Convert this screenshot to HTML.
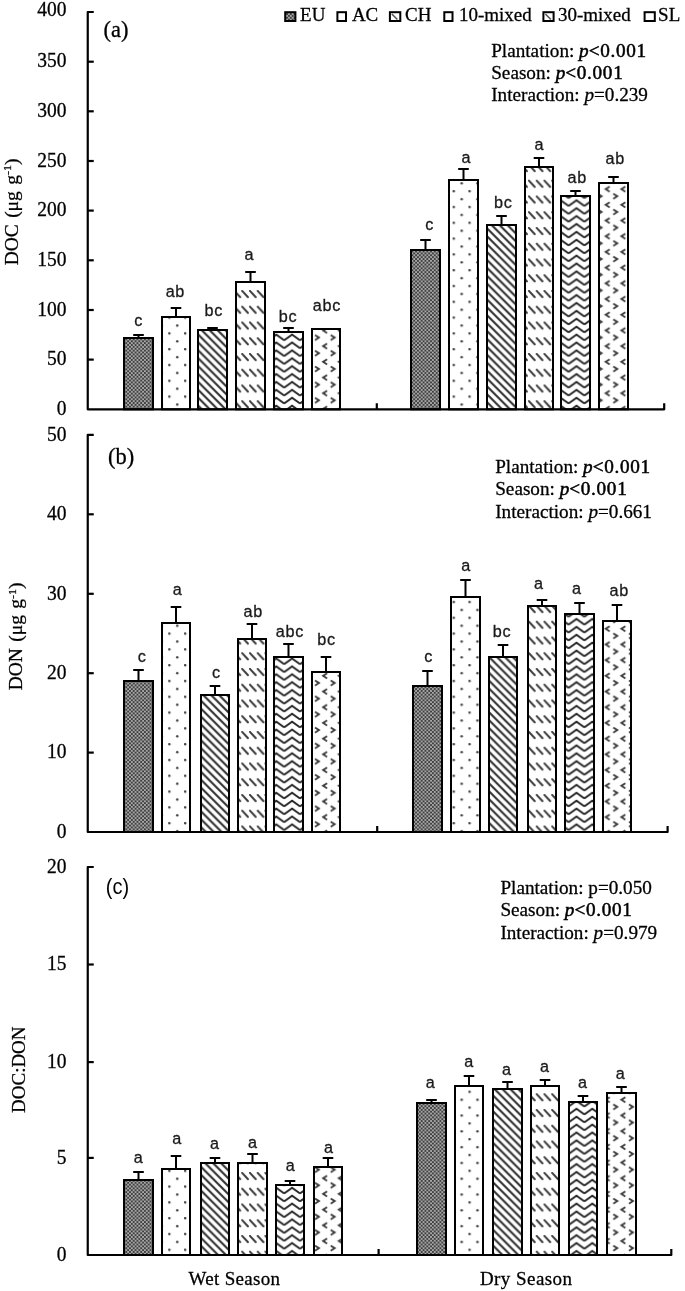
<!DOCTYPE html>
<html><head><meta charset="utf-8"><title>DOC DON chart</title>
<style>html,body{margin:0;padding:0;background:#fff;width:685px;height:1291px;overflow:hidden}
svg{display:block;filter:blur(0.45px)}
text[font-family*="Serif"]{stroke:#000;stroke-width:0.28px}</style></head><body>
<svg width="685" height="1291" viewBox="0 0 685 1291">

<defs>
 <pattern id="pEU" patternUnits="userSpaceOnUse" width="3.74" height="3.74">
  <rect width="3.74" height="3.74" fill="#a6a6a6"/>
  <rect width="1.87" height="1.87" fill="#404040"/><rect x="1.87" y="1.87" width="1.87" height="1.87" fill="#404040"/>
 </pattern>
 <pattern id="pAC" patternUnits="userSpaceOnUse" width="15.8" height="15.8" x="10.2" y="0.4">
  <rect width="15.8" height="15.8" fill="#fff"/>
  <circle cx="1.2" cy="1.2" r="1.25" fill="#444"/>
  <circle cx="9.1" cy="9.1" r="1.25" fill="#444"/>
 </pattern>
 <pattern id="pCH" patternUnits="userSpaceOnUse" width="7.9" height="7.9" x="0" y="2">
  <rect width="7.9" height="7.9" fill="#fff"/>
  <path d="M-2,-2 L9.9,9.9 M-2,5.9 L2,9.9 M5.9,-2 L9.9,2" stroke="#303030" stroke-width="2.1" fill="none"/>
 </pattern>
 <pattern id="p10" patternUnits="userSpaceOnUse" width="7.75" height="15.75" x="1" y="6.5">
  <rect width="7.75" height="15.75" fill="#fff"/>
  <path d="M0.9,0.9 L6.7,7.1" stroke="#3a3a3a" stroke-width="2" stroke-linecap="round" fill="none"/>
 </pattern>
 <pattern id="p30" patternUnits="userSpaceOnUse" width="15.8" height="7.9" x="-0.2" y="2.1">
  <rect width="15.8" height="7.9" fill="#fff"/>
  <path d="M0,6.3 L7.9,0.7 L15.8,6.3 M0,6.3 L-7.9,0.7 M15.8,6.3 L23.7,0.7 M0,-1.6 L7.9,-7.2 L15.8,-1.6 M0,14.2 L7.9,8.6 L15.8,14.2" stroke="#262626" stroke-width="1.9" fill="none"/>
 </pattern>
 <pattern id="pSL" patternUnits="userSpaceOnUse" width="15.7" height="15.7" x="7" y="-3">
  <rect width="15.7" height="15.7" fill="#fff"/>
  <path d="M6.1,1.3 L2.1,3.8 L6.1,6.3 M9.7,8.4 L13.7,10.9 L9.7,13.4" stroke="#3c3c3c" stroke-width="1.8" fill="none"/>
 </pattern>
 <pattern id="pW" patternUnits="userSpaceOnUse" width="4" height="4"><rect width="4" height="4" fill="#fff"/></pattern>
 <pattern id="pLCH" patternUnits="userSpaceOnUse" width="40" height="40"><rect width="40" height="40" fill="#fff"/><path d="M-10,-18 L50,42" stroke="#555" stroke-width="1.8"/></pattern>
</defs>

<rect width="685" height="1291" fill="#fff"/>
<path d="M138.5,338 V335 M133.2,335 H143.8" stroke="#000" stroke-width="2" fill="none"/>
<rect x="124" y="338" width="29" height="71.3" fill="url(#pEU)" stroke="#000" stroke-width="2"/>
<text transform="translate(138.55,325.7) scale(1,1.06)" font-family='"Liberation Sans", sans-serif' font-size="16.2" letter-spacing="0.7" text-anchor="middle" fill="#1a1a1a" stroke="#1a1a1a" stroke-width="0.3">c</text>
<path d="M176,317 V308 M170.7,308 H181.3" stroke="#000" stroke-width="2" fill="none"/>
<rect x="162" y="317" width="28" height="92.3" fill="url(#pAC)" stroke="#000" stroke-width="2"/>
<text transform="translate(175.35,296.8) scale(1,1.06)" font-family='"Liberation Sans", sans-serif' font-size="16.2" letter-spacing="0.7" text-anchor="middle" fill="#1a1a1a" stroke="#1a1a1a" stroke-width="0.3">ab</text>
<path d="M212.5,330 V328 M207.2,328 H217.8" stroke="#000" stroke-width="2" fill="none"/>
<rect x="198" y="330" width="29" height="79.3" fill="url(#pCH)" stroke="#000" stroke-width="2"/>
<text transform="translate(213.85,316) scale(1,1.06)" font-family='"Liberation Sans", sans-serif' font-size="16.2" letter-spacing="0.7" text-anchor="middle" fill="#1a1a1a" stroke="#1a1a1a" stroke-width="0.3">bc</text>
<path d="M250.5,282 V272 M245.2,272 H255.8" stroke="#000" stroke-width="2" fill="none"/>
<rect x="236" y="282" width="29" height="127.3" fill="url(#p10)" stroke="#000" stroke-width="2"/>
<text transform="translate(249.35,259.6) scale(1,1.06)" font-family='"Liberation Sans", sans-serif' font-size="16.2" letter-spacing="0.7" text-anchor="middle" fill="#1a1a1a" stroke="#1a1a1a" stroke-width="0.3">a</text>
<path d="M288.5,332 V328 M283.2,328 H293.8" stroke="#000" stroke-width="2" fill="none"/>
<rect x="274" y="332" width="29" height="77.3" fill="url(#p30)" stroke="#000" stroke-width="2"/>
<text transform="translate(287.95,321.8) scale(1,1.06)" font-family='"Liberation Sans", sans-serif' font-size="16.2" letter-spacing="0.7" text-anchor="middle" fill="#1a1a1a" stroke="#1a1a1a" stroke-width="0.3">bc</text>
<rect x="312" y="329" width="28" height="80.3" fill="url(#pSL)" stroke="#000" stroke-width="2"/>
<text transform="translate(326.95,311) scale(1,1.06)" font-family='"Liberation Sans", sans-serif' font-size="16.2" letter-spacing="0.7" text-anchor="middle" fill="#1a1a1a" stroke="#1a1a1a" stroke-width="0.3">abc</text>
<path d="M425.5,250 V240 M420.2,240 H430.8" stroke="#000" stroke-width="2" fill="none"/>
<rect x="411" y="250" width="29" height="159.3" fill="url(#pEU)" stroke="#000" stroke-width="2"/>
<text transform="translate(429.75,230.2) scale(1,1.06)" font-family='"Liberation Sans", sans-serif' font-size="16.2" letter-spacing="0.7" text-anchor="middle" fill="#1a1a1a" stroke="#1a1a1a" stroke-width="0.3">c</text>
<path d="M463.5,180 V169 M458.2,169 H468.8" stroke="#000" stroke-width="2" fill="none"/>
<rect x="449" y="180" width="29" height="229.3" fill="url(#pAC)" stroke="#000" stroke-width="2"/>
<text transform="translate(466.45,162.8) scale(1,1.06)" font-family='"Liberation Sans", sans-serif' font-size="16.2" letter-spacing="0.7" text-anchor="middle" fill="#1a1a1a" stroke="#1a1a1a" stroke-width="0.3">a</text>
<path d="M501.5,225 V216 M496.2,216 H506.8" stroke="#000" stroke-width="2" fill="none"/>
<rect x="487" y="225" width="29" height="184.3" fill="url(#pCH)" stroke="#000" stroke-width="2"/>
<text transform="translate(503.25,208) scale(1,1.06)" font-family='"Liberation Sans", sans-serif' font-size="16.2" letter-spacing="0.7" text-anchor="middle" fill="#1a1a1a" stroke="#1a1a1a" stroke-width="0.3">bc</text>
<path d="M539,167 V158 M533.7,158 H544.3" stroke="#000" stroke-width="2" fill="none"/>
<rect x="525" y="167" width="28" height="242.3" fill="url(#p10)" stroke="#000" stroke-width="2"/>
<text transform="translate(539.35,149.6) scale(1,1.06)" font-family='"Liberation Sans", sans-serif' font-size="16.2" letter-spacing="0.7" text-anchor="middle" fill="#1a1a1a" stroke="#1a1a1a" stroke-width="0.3">a</text>
<path d="M575.5,196 V191 M570.2,191 H580.8" stroke="#000" stroke-width="2" fill="none"/>
<rect x="561" y="196" width="29" height="213.3" fill="url(#p30)" stroke="#000" stroke-width="2"/>
<text transform="translate(577.15,182.9) scale(1,1.06)" font-family='"Liberation Sans", sans-serif' font-size="16.2" letter-spacing="0.7" text-anchor="middle" fill="#1a1a1a" stroke="#1a1a1a" stroke-width="0.3">ab</text>
<path d="M613.5,183 V177 M608.2,177 H618.8" stroke="#000" stroke-width="2" fill="none"/>
<rect x="599" y="183" width="29" height="226.3" fill="url(#pSL)" stroke="#000" stroke-width="2"/>
<text transform="translate(615.25,164.2) scale(1,1.06)" font-family='"Liberation Sans", sans-serif' font-size="16.2" letter-spacing="0.7" text-anchor="middle" fill="#1a1a1a" stroke="#1a1a1a" stroke-width="0.3">ab</text>
<path d="M93.75,12 H87.75 V409.3 H664.2 V403.3 M376.8,409.3 V403.3" stroke="#000" stroke-width="2.2" fill="none" stroke-linejoin="round"/>
<text transform="translate(66.5,16.1) scale(1,1.035)" font-family='"Liberation Serif", serif' font-size="19.5" text-anchor="end" fill="#000">400</text>
<path d="M87.75,61.7 H93.75" stroke="#000" stroke-width="2.2"/>
<text transform="translate(66.5,67.4) scale(1,1.035)" font-family='"Liberation Serif", serif' font-size="19.5" text-anchor="end" fill="#000">350</text>
<path d="M87.75,111.3 H93.75" stroke="#000" stroke-width="2.2"/>
<text transform="translate(66.5,117) scale(1,1.035)" font-family='"Liberation Serif", serif' font-size="19.5" text-anchor="end" fill="#000">300</text>
<path d="M87.75,161 H93.75" stroke="#000" stroke-width="2.2"/>
<text transform="translate(66.5,166.7) scale(1,1.035)" font-family='"Liberation Serif", serif' font-size="19.5" text-anchor="end" fill="#000">250</text>
<path d="M87.75,210.6 H93.75" stroke="#000" stroke-width="2.2"/>
<text transform="translate(66.5,216.3) scale(1,1.035)" font-family='"Liberation Serif", serif' font-size="19.5" text-anchor="end" fill="#000">200</text>
<path d="M87.75,260.3 H93.75" stroke="#000" stroke-width="2.2"/>
<text transform="translate(66.5,266) scale(1,1.035)" font-family='"Liberation Serif", serif' font-size="19.5" text-anchor="end" fill="#000">150</text>
<path d="M87.75,310 H93.75" stroke="#000" stroke-width="2.2"/>
<text transform="translate(66.5,315.7) scale(1,1.035)" font-family='"Liberation Serif", serif' font-size="19.5" text-anchor="end" fill="#000">100</text>
<path d="M87.75,359.6 H93.75" stroke="#000" stroke-width="2.2"/>
<text transform="translate(66.5,365.3) scale(1,1.035)" font-family='"Liberation Serif", serif' font-size="19.5" text-anchor="end" fill="#000">50</text>
<text transform="translate(66.5,415) scale(1,1.035)" font-family='"Liberation Serif", serif' font-size="19.5" text-anchor="end" fill="#000">0</text>
<text transform="translate(103.6,36.9) scale(1,1.035)" font-family='"Liberation Serif", serif' font-size="22.5" fill="#000">(a)</text>
<text transform="translate(491.2,57.2) scale(1,1.035)" font-family='"Liberation Serif", serif' font-size="19.2" fill="#000">Plantation: <tspan font-style="italic" fill="#000" style="stroke-width:0.5px">p</tspan><tspan fill="#000" style="stroke-width:0.5px" letter-spacing="0.7"><0.001</tspan></text>
<text transform="translate(491.2,79.4) scale(1,1.035)" font-family='"Liberation Serif", serif' font-size="19.2" fill="#000">Season: <tspan font-style="italic" fill="#000" style="stroke-width:0.5px">p</tspan><tspan fill="#000" style="stroke-width:0.5px" letter-spacing="0.7"><0.001</tspan></text>
<text transform="translate(491.2,101) scale(1,1.035)" font-family='"Liberation Serif", serif' font-size="19.2" fill="#000">Interaction: <tspan font-style="italic">p</tspan>=0.239</text>
<text transform="translate(17.8,212) rotate(-90) scale(1,0.94)" x="0" y="0" font-family='"Liberation Serif", serif' font-size="19.5" word-spacing="1.5" text-anchor="middle" fill="#000">DOC (μg g<tspan dy="-7" font-size="12">-1</tspan><tspan dy="7">)</tspan></text>
<path d="M138.5,681 V670 M133.2,670 H143.8" stroke="#000" stroke-width="2" fill="none"/>
<rect x="124" y="681" width="29" height="151" fill="url(#pEU)" stroke="#000" stroke-width="2"/>
<text transform="translate(142.05,662) scale(1,1.06)" font-family='"Liberation Sans", sans-serif' font-size="16.2" letter-spacing="0.7" text-anchor="middle" fill="#1a1a1a" stroke="#1a1a1a" stroke-width="0.3">c</text>
<path d="M176,623 V607 M170.7,607 H181.3" stroke="#000" stroke-width="2" fill="none"/>
<rect x="162" y="623" width="28" height="209" fill="url(#pAC)" stroke="#000" stroke-width="2"/>
<text transform="translate(177.55,594.5) scale(1,1.06)" font-family='"Liberation Sans", sans-serif' font-size="16.2" letter-spacing="0.7" text-anchor="middle" fill="#1a1a1a" stroke="#1a1a1a" stroke-width="0.3">a</text>
<path d="M215,695 V686 M209.7,686 H220.3" stroke="#000" stroke-width="2" fill="none"/>
<rect x="201" y="695" width="28" height="137" fill="url(#pCH)" stroke="#000" stroke-width="2"/>
<text transform="translate(216.35,677.6) scale(1,1.06)" font-family='"Liberation Sans", sans-serif' font-size="16.2" letter-spacing="0.7" text-anchor="middle" fill="#1a1a1a" stroke="#1a1a1a" stroke-width="0.3">c</text>
<path d="M252,639 V624 M246.7,624 H257.3" stroke="#000" stroke-width="2" fill="none"/>
<rect x="238" y="639" width="28" height="193" fill="url(#p10)" stroke="#000" stroke-width="2"/>
<text transform="translate(253.15,616.9) scale(1,1.06)" font-family='"Liberation Sans", sans-serif' font-size="16.2" letter-spacing="0.7" text-anchor="middle" fill="#1a1a1a" stroke="#1a1a1a" stroke-width="0.3">ab</text>
<path d="M288.5,657 V644 M283.2,644 H293.8" stroke="#000" stroke-width="2" fill="none"/>
<rect x="274" y="657" width="29" height="175" fill="url(#p30)" stroke="#000" stroke-width="2"/>
<text transform="translate(289.95,636.8) scale(1,1.06)" font-family='"Liberation Sans", sans-serif' font-size="16.2" letter-spacing="0.7" text-anchor="middle" fill="#1a1a1a" stroke="#1a1a1a" stroke-width="0.3">abc</text>
<path d="M326,672 V657 M320.7,657 H331.3" stroke="#000" stroke-width="2" fill="none"/>
<rect x="312" y="672" width="28" height="160" fill="url(#pSL)" stroke="#000" stroke-width="2"/>
<text transform="translate(326.45,644.9) scale(1,1.06)" font-family='"Liberation Sans", sans-serif' font-size="16.2" letter-spacing="0.7" text-anchor="middle" fill="#1a1a1a" stroke="#1a1a1a" stroke-width="0.3">bc</text>
<path d="M427.5,686 V671 M422.2,671 H432.8" stroke="#000" stroke-width="2" fill="none"/>
<rect x="413" y="686" width="29" height="146" fill="url(#pEU)" stroke="#000" stroke-width="2"/>
<text transform="translate(428.75,661.6) scale(1,1.06)" font-family='"Liberation Sans", sans-serif' font-size="16.2" letter-spacing="0.7" text-anchor="middle" fill="#1a1a1a" stroke="#1a1a1a" stroke-width="0.3">c</text>
<path d="M465.5,597 V580 M460.2,580 H470.8" stroke="#000" stroke-width="2" fill="none"/>
<rect x="451" y="597" width="29" height="235" fill="url(#pAC)" stroke="#000" stroke-width="2"/>
<text transform="translate(466.05,571.4) scale(1,1.06)" font-family='"Liberation Sans", sans-serif' font-size="16.2" letter-spacing="0.7" text-anchor="middle" fill="#1a1a1a" stroke="#1a1a1a" stroke-width="0.3">a</text>
<path d="M503,657 V645 M497.7,645 H508.3" stroke="#000" stroke-width="2" fill="none"/>
<rect x="489" y="657" width="28" height="175" fill="url(#pCH)" stroke="#000" stroke-width="2"/>
<text transform="translate(502.05,636.7) scale(1,1.06)" font-family='"Liberation Sans", sans-serif' font-size="16.2" letter-spacing="0.7" text-anchor="middle" fill="#1a1a1a" stroke="#1a1a1a" stroke-width="0.3">bc</text>
<path d="M542,606 V600 M536.7,600 H547.3" stroke="#000" stroke-width="2" fill="none"/>
<rect x="528" y="606" width="28" height="226" fill="url(#p10)" stroke="#000" stroke-width="2"/>
<text transform="translate(538.95,588.9) scale(1,1.06)" font-family='"Liberation Sans", sans-serif' font-size="16.2" letter-spacing="0.7" text-anchor="middle" fill="#1a1a1a" stroke="#1a1a1a" stroke-width="0.3">a</text>
<path d="M579.5,614 V603 M574.2,603 H584.8" stroke="#000" stroke-width="2" fill="none"/>
<rect x="565" y="614" width="29" height="218" fill="url(#p30)" stroke="#000" stroke-width="2"/>
<text transform="translate(576.75,594.1) scale(1,1.06)" font-family='"Liberation Sans", sans-serif' font-size="16.2" letter-spacing="0.7" text-anchor="middle" fill="#1a1a1a" stroke="#1a1a1a" stroke-width="0.3">a</text>
<path d="M617,621 V605 M611.7,605 H622.3" stroke="#000" stroke-width="2" fill="none"/>
<rect x="603" y="621" width="28" height="211" fill="url(#pSL)" stroke="#000" stroke-width="2"/>
<text transform="translate(619.25,596.4) scale(1,1.06)" font-family='"Liberation Sans", sans-serif' font-size="16.2" letter-spacing="0.7" text-anchor="middle" fill="#1a1a1a" stroke="#1a1a1a" stroke-width="0.3">ab</text>
<path d="M93.75,434.9 H87.75 V832 H667.6 V826 M377.2,832 V826" stroke="#000" stroke-width="2.2" fill="none" stroke-linejoin="round"/>
<text transform="translate(66.5,440.6) scale(1,1.035)" font-family='"Liberation Serif", serif' font-size="19.5" text-anchor="end" fill="#000">50</text>
<path d="M87.75,514.3 H93.75" stroke="#000" stroke-width="2.2"/>
<text transform="translate(66.5,520) scale(1,1.035)" font-family='"Liberation Serif", serif' font-size="19.5" text-anchor="end" fill="#000">40</text>
<path d="M87.75,593.8 H93.75" stroke="#000" stroke-width="2.2"/>
<text transform="translate(66.5,599.5) scale(1,1.035)" font-family='"Liberation Serif", serif' font-size="19.5" text-anchor="end" fill="#000">30</text>
<path d="M87.75,673.2 H93.75" stroke="#000" stroke-width="2.2"/>
<text transform="translate(66.5,678.9) scale(1,1.035)" font-family='"Liberation Serif", serif' font-size="19.5" text-anchor="end" fill="#000">20</text>
<path d="M87.75,752.6 H93.75" stroke="#000" stroke-width="2.2"/>
<text transform="translate(66.5,758.3) scale(1,1.035)" font-family='"Liberation Serif", serif' font-size="19.5" text-anchor="end" fill="#000">10</text>
<text transform="translate(66.5,837.7) scale(1,1.035)" font-family='"Liberation Serif", serif' font-size="19.5" text-anchor="end" fill="#000">0</text>
<text transform="translate(108,463.5) scale(1,1.035)" font-family='"Liberation Serif", serif' font-size="22.5" fill="#000">(b)</text>
<text transform="translate(495.2,473) scale(1,1.035)" font-family='"Liberation Serif", serif' font-size="19.2" fill="#000">Plantation: <tspan font-style="italic" fill="#000" style="stroke-width:0.5px">p</tspan><tspan fill="#000" style="stroke-width:0.5px" letter-spacing="0.7"><0.001</tspan></text>
<text transform="translate(495.2,494.8) scale(1,1.035)" font-family='"Liberation Serif", serif' font-size="19.2" fill="#000">Season: <tspan font-style="italic" fill="#000" style="stroke-width:0.5px">p</tspan><tspan fill="#000" style="stroke-width:0.5px" letter-spacing="0.7"><0.001</tspan></text>
<text transform="translate(495.2,518.1) scale(1,1.035)" font-family='"Liberation Serif", serif' font-size="19.2" fill="#000">Interaction: <tspan font-style="italic">p</tspan>=0.661</text>
<text transform="translate(22.2,636.4) rotate(-90) scale(1,0.94)" x="0" y="0" font-family='"Liberation Serif", serif' font-size="19.5" word-spacing="1.5" text-anchor="middle" fill="#000">DON (μg g<tspan dy="-7" font-size="12">-1</tspan><tspan dy="7">)</tspan></text>
<path d="M138.5,1180 V1172 M133.2,1172 H143.8" stroke="#000" stroke-width="2" fill="none"/>
<rect x="124" y="1180" width="29" height="75" fill="url(#pEU)" stroke="#000" stroke-width="2"/>
<text transform="translate(138.55,1163.4) scale(1,1.06)" font-family='"Liberation Sans", sans-serif' font-size="16.2" letter-spacing="0.7" text-anchor="middle" fill="#1a1a1a" stroke="#1a1a1a" stroke-width="0.3">a</text>
<path d="M176,1169 V1156 M170.7,1156 H181.3" stroke="#000" stroke-width="2" fill="none"/>
<rect x="162" y="1169" width="28" height="86" fill="url(#pAC)" stroke="#000" stroke-width="2"/>
<text transform="translate(177.15,1144) scale(1,1.06)" font-family='"Liberation Sans", sans-serif' font-size="16.2" letter-spacing="0.7" text-anchor="middle" fill="#1a1a1a" stroke="#1a1a1a" stroke-width="0.3">a</text>
<path d="M215,1163 V1158 M209.7,1158 H220.3" stroke="#000" stroke-width="2" fill="none"/>
<rect x="201" y="1163" width="28" height="92" fill="url(#pCH)" stroke="#000" stroke-width="2"/>
<text transform="translate(214.85,1148.9) scale(1,1.06)" font-family='"Liberation Sans", sans-serif' font-size="16.2" letter-spacing="0.7" text-anchor="middle" fill="#1a1a1a" stroke="#1a1a1a" stroke-width="0.3">a</text>
<path d="M252.5,1163 V1154 M247.2,1154 H257.8" stroke="#000" stroke-width="2" fill="none"/>
<rect x="238" y="1163" width="29" height="92" fill="url(#p10)" stroke="#000" stroke-width="2"/>
<text transform="translate(252.95,1147.7) scale(1,1.06)" font-family='"Liberation Sans", sans-serif' font-size="16.2" letter-spacing="0.7" text-anchor="middle" fill="#1a1a1a" stroke="#1a1a1a" stroke-width="0.3">a</text>
<path d="M290,1185 V1181 M284.7,1181 H295.3" stroke="#000" stroke-width="2" fill="none"/>
<rect x="276" y="1185" width="28" height="70" fill="url(#p30)" stroke="#000" stroke-width="2"/>
<text transform="translate(290.55,1170.8) scale(1,1.06)" font-family='"Liberation Sans", sans-serif' font-size="16.2" letter-spacing="0.7" text-anchor="middle" fill="#1a1a1a" stroke="#1a1a1a" stroke-width="0.3">a</text>
<path d="M328,1167 V1158 M322.7,1158 H333.3" stroke="#000" stroke-width="2" fill="none"/>
<rect x="314" y="1167" width="28" height="88" fill="url(#pSL)" stroke="#000" stroke-width="2"/>
<text transform="translate(328.95,1152.8) scale(1,1.06)" font-family='"Liberation Sans", sans-serif' font-size="16.2" letter-spacing="0.7" text-anchor="middle" fill="#1a1a1a" stroke="#1a1a1a" stroke-width="0.3">a</text>
<path d="M431.5,1103 V1100 M426.2,1100 H436.8" stroke="#000" stroke-width="2" fill="none"/>
<rect x="417" y="1103" width="29" height="152" fill="url(#pEU)" stroke="#000" stroke-width="2"/>
<text transform="translate(430.65,1088.2) scale(1,1.06)" font-family='"Liberation Sans", sans-serif' font-size="16.2" letter-spacing="0.7" text-anchor="middle" fill="#1a1a1a" stroke="#1a1a1a" stroke-width="0.3">a</text>
<path d="M469,1086 V1076 M463.7,1076 H474.3" stroke="#000" stroke-width="2" fill="none"/>
<rect x="455" y="1086" width="28" height="169" fill="url(#pAC)" stroke="#000" stroke-width="2"/>
<text transform="translate(469.05,1066.6) scale(1,1.06)" font-family='"Liberation Sans", sans-serif' font-size="16.2" letter-spacing="0.7" text-anchor="middle" fill="#1a1a1a" stroke="#1a1a1a" stroke-width="0.3">a</text>
<path d="M507.5,1089 V1082 M502.2,1082 H512.8" stroke="#000" stroke-width="2" fill="none"/>
<rect x="493" y="1089" width="29" height="166" fill="url(#pCH)" stroke="#000" stroke-width="2"/>
<text transform="translate(506.85,1075) scale(1,1.06)" font-family='"Liberation Sans", sans-serif' font-size="16.2" letter-spacing="0.7" text-anchor="middle" fill="#1a1a1a" stroke="#1a1a1a" stroke-width="0.3">a</text>
<path d="M545,1086 V1080 M539.7,1080 H550.3" stroke="#000" stroke-width="2" fill="none"/>
<rect x="531" y="1086" width="28" height="169" fill="url(#p10)" stroke="#000" stroke-width="2"/>
<text transform="translate(544.75,1072) scale(1,1.06)" font-family='"Liberation Sans", sans-serif' font-size="16.2" letter-spacing="0.7" text-anchor="middle" fill="#1a1a1a" stroke="#1a1a1a" stroke-width="0.3">a</text>
<path d="M583,1102 V1096 M577.7,1096 H588.3" stroke="#000" stroke-width="2" fill="none"/>
<rect x="569" y="1102" width="28" height="153" fill="url(#p30)" stroke="#000" stroke-width="2"/>
<text transform="translate(582.85,1087.7) scale(1,1.06)" font-family='"Liberation Sans", sans-serif' font-size="16.2" letter-spacing="0.7" text-anchor="middle" fill="#1a1a1a" stroke="#1a1a1a" stroke-width="0.3">a</text>
<path d="M621.5,1093 V1087 M616.2,1087 H626.8" stroke="#000" stroke-width="2" fill="none"/>
<rect x="607" y="1093" width="29" height="162" fill="url(#pSL)" stroke="#000" stroke-width="2"/>
<text transform="translate(620.55,1078.9) scale(1,1.06)" font-family='"Liberation Sans", sans-serif' font-size="16.2" letter-spacing="0.7" text-anchor="middle" fill="#1a1a1a" stroke="#1a1a1a" stroke-width="0.3">a</text>
<path d="M93.75,867 H87.75 V1255 H671.3 V1249 M378.6,1255 V1249" stroke="#000" stroke-width="2.2" fill="none" stroke-linejoin="round"/>
<text transform="translate(66.5,872.7) scale(1,1.035)" font-family='"Liberation Serif", serif' font-size="19.5" text-anchor="end" fill="#000">20</text>
<path d="M87.75,964.5 H93.75" stroke="#000" stroke-width="2.2"/>
<text transform="translate(66.5,970.2) scale(1,1.035)" font-family='"Liberation Serif", serif' font-size="19.5" text-anchor="end" fill="#000">15</text>
<path d="M87.75,1062.1 H93.75" stroke="#000" stroke-width="2.2"/>
<text transform="translate(66.5,1067.8) scale(1,1.035)" font-family='"Liberation Serif", serif' font-size="19.5" text-anchor="end" fill="#000">10</text>
<path d="M87.75,1157.9 H93.75" stroke="#000" stroke-width="2.2"/>
<text transform="translate(66.5,1163.6) scale(1,1.035)" font-family='"Liberation Serif", serif' font-size="19.5" text-anchor="end" fill="#000">5</text>
<text transform="translate(66.5,1260.7) scale(1,1.035)" font-family='"Liberation Serif", serif' font-size="19.5" text-anchor="end" fill="#000">0</text>
<text transform="translate(105.8,894) scale(1,1.06)" font-family='"Liberation Sans", sans-serif' font-size="20" fill="#000">(c)</text>
<text transform="translate(500.4,893.9) scale(1,1.035)" font-family='"Liberation Serif", serif' font-size="19.2" fill="#000">Plantation: p=0.050</text>
<text transform="translate(500.4,915.8) scale(1,1.035)" font-family='"Liberation Serif", serif' font-size="19.2" fill="#000">Season: <tspan font-style="italic" fill="#000" style="stroke-width:0.5px">p</tspan><tspan fill="#000" style="stroke-width:0.5px" letter-spacing="0.7"><0.001</tspan></text>
<text transform="translate(500.4,938.8) scale(1,1.035)" font-family='"Liberation Serif", serif' font-size="19.2" fill="#000">Interaction: <tspan font-style="italic">p</tspan>=0.979</text>
<text transform="translate(24.9,1069.7) rotate(-90) scale(1,0.94)" x="0" y="0" font-family='"Liberation Serif", serif' font-size="19" word-spacing="1.5" text-anchor="middle" fill="#000">DOC:DON</text>
<rect x="285.2" y="12.2" width="10.2" height="8.8" fill="url(#pEU)" stroke="#000" stroke-width="2"/>
<text transform="translate(300.1,20.8) scale(1,1.035)" font-family='"Liberation Serif", serif' font-size="19" fill="#000">EU</text>
<rect x="337.4" y="12.2" width="8.6" height="8.8" fill="url(#pW)" stroke="#000" stroke-width="2"/>
<text transform="translate(351.9,20.8) scale(1,1.035)" font-family='"Liberation Serif", serif' font-size="19" fill="#000">AC</text>
<rect x="389.9" y="12.2" width="10.4" height="8.8" fill="url(#pW)" stroke="#000" stroke-width="2"/>
<text transform="translate(405,20.8) scale(1,1.035)" font-family='"Liberation Serif", serif' font-size="19" fill="#000">CH</text>
<path d="M391.9,14 L397.4,19.5" stroke="#555" stroke-width="1.6"/>
<rect x="444.3" y="12.2" width="8.2" height="8.8" fill="url(#pW)" stroke="#000" stroke-width="2"/>
<text transform="translate(458.9,20.8) scale(1,1.035)" font-family='"Liberation Serif", serif' font-size="19" fill="#000">10-mixed</text>
<rect x="543.4" y="12.2" width="10.2" height="8.8" fill="url(#pW)" stroke="#000" stroke-width="2"/>
<text transform="translate(558,20.8) scale(1,1.035)" font-family='"Liberation Serif", serif' font-size="19" fill="#000">30-mixed</text>
<path d="M545.4,14 L550.9,19.5" stroke="#555" stroke-width="1.6"/>
<rect x="644.6" y="12.2" width="10.2" height="8.8" fill="url(#pW)" stroke="#000" stroke-width="2"/>
<text transform="translate(658.1,20.8) scale(1,1.035)" font-family='"Liberation Serif", serif' font-size="19" fill="#000">SL</text>
<text transform="translate(234.4,1284.8) scale(1,1.035)" font-family='"Liberation Serif", serif' font-size="19" letter-spacing="0.3" text-anchor="middle" fill="#000">Wet Season</text>
<text transform="translate(526.2,1284.8) scale(1,1.035)" font-family='"Liberation Serif", serif' font-size="19" letter-spacing="0.45" text-anchor="middle" fill="#000">Dry Season</text>
</svg>
</body></html>
